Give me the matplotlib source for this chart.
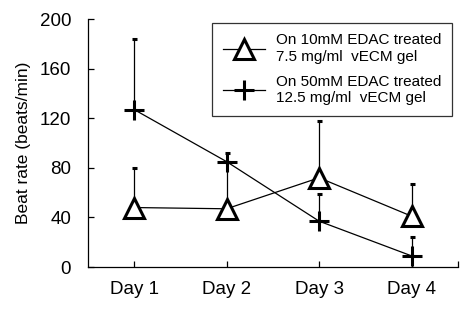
import matplotlib
matplotlib.use("Agg")
import matplotlib.pyplot as plt
from matplotlib.lines import Line2D

plt.rcParams['font.family'] = ['Liberation Sans', 'DejaVu Sans']

days = ["Day 1", "Day 2", "Day 3", "Day 4"]
tri_mean = [48, 47, 72, 41]
tri_err = [32, 38, 46, 26]
plus_mean = [127, 85, 37, 9]
plus_err = [57, 7, 22, 15]
labels = ["On 10mM EDAC treated\n7.5 mg/ml  vECM gel",
          "On 50mM EDAC treated\n12.5 mg/ml  vECM gel"]

fig = plt.figure(figsize=(4.75, 3.12), dpi=100)
ax = fig.add_axes([0.185, 0.144, 0.779, 0.795])

x = range(len(days))
zeros = [0] * len(days)

tri_style = dict(color='black', lw=0.9, marker='^', ms=14, mfc='white',
                 mec='black', mew=2.2)
plus_style = dict(color='black', lw=0.9, marker='+', ms=15, mew=2.2)

ax.errorbar(x, tri_mean, yerr=[zeros, tri_err], ecolor='black',
            elinewidth=0.9, capsize=1.8, capthick=1.2, **tri_style)
ax.errorbar(x, plus_mean, yerr=[zeros, plus_err], ecolor='black',
            elinewidth=0.9, capsize=1.8, capthick=1.2, **plus_style)

ax.set_xlim(-0.5, 3.5)
ax.set_ylim(0, 200)
ax.set_yticks([0, 40, 80, 120, 160, 200])
ax.set_xticks(list(x))
ax.set_xticklabels(days)
ax.set_xticks([3.5], minor=True)
ax.tick_params(axis='both', direction='in', length=4, width=0.9, labelsize=13.5)
ax.tick_params(axis='x', which='minor', direction='in', length=4, width=0.9)
ax.tick_params(axis='x', pad=10)
ax.tick_params(axis='y', pad=12)
for s in ['top', 'right']:
    ax.spines[s].set_visible(False)
for s in ['left', 'bottom']:
    ax.spines[s].set_linewidth(0.9)

ax.set_ylabel("Beat rate (beats/min)", fontsize=12.5, labelpad=6)

handles = [Line2D([], [], **tri_style), Line2D([], [], **plus_style)]
leg = ax.legend(handles, labels, loc='upper left', bbox_to_anchor=(0.335, 0.985),
                fontsize=11, frameon=True, fancybox=False, handlelength=2.8,
                borderpad=0.7, labelspacing=0.75, handletextpad=0.7,
                borderaxespad=0)
leg.get_frame().set_edgecolor('black')
leg.get_frame().set_linewidth(0.9)

fig.savefig("out.png", dpi=100)
